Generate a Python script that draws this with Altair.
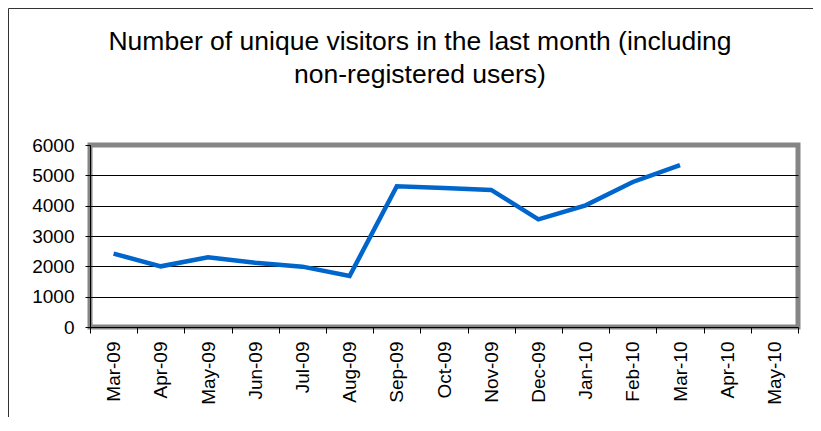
import altair as alt
import pandas as pd

# ---- data ----
MONTHS = ["Mar-09", "Apr-09", "May-09", "Jun-09", "Jul-09", "Aug-09", "Sep-09",
          "Oct-09", "Nov-09", "Dec-09", "Jan-10", "Feb-10", "Mar-10", "Apr-10", "May-10"]
VISITOR_MONTHS = MONTHS[:13]
VISITORS = [2420, 2000, 2300, 2120, 1990, 1680, 4640, 4580, 4520, 3550, 4010, 4780, 5340]
Y_TICKS = [0, 1000, 2000, 3000, 4000, 5000, 6000]
TITLE_LINES = ["Number of unique visitors in the last month (including",
               "non-registered users)"]

FONT = "Liberation Sans"
W, H = 708, 182

df = pd.DataFrame({"month": VISITOR_MONTHS, "visitors": VISITORS})

line = alt.Chart(df).mark_line(color="#0066CC", strokeWidth=4.5).encode(
    x=alt.X("month:N", sort=MONTHS, bandPosition=0.5,
            scale=alt.Scale(type="band", domain=MONTHS, paddingInner=0, paddingOuter=0),
            axis=alt.Axis(title=None, labelAngle=270, labelAlign="right", labelBaseline="middle",
                          labelFont=FONT, labelFontSize=19, labelColor="black",
                          labelPadding=8, tickBand="extent", tickColor="black", tickSize=6,
                          domainColor="black", grid=False)),
    y=alt.Y("visitors:Q", scale=alt.Scale(domain=[0, 6000], nice=False),
            axis=alt.Axis(title=None, values=Y_TICKS, format="d", labelFont=FONT,
                          labelFontSize=19, labelColor="black", labelPadding=11,
                          tickColor="black", tickSize=5, domainColor="black",
                          grid=True, gridColor="black", gridWidth=1,
                          gridOpacity={"condition": {"test": "datum.value == 0 || datum.value == 6000",
                                                     "value": 0}, "value": 1})),
)

one = alt.Data(values=[{}])

title = alt.Chart(one).mark_text(
    text=TITLE_LINES, font=FONT, fontSize=26.5, align="center", baseline="alphabetic",
    lineHeight=33, color="black"
).encode(x=alt.value(330), y=alt.value(-95))

frame_left = alt.Chart(one).mark_rule(color="#333333", strokeWidth=1).encode(
    x=alt.value(-81.5), y=alt.value(-136.5), y2=alt.value(H + 100))
frame_top = alt.Chart(one).mark_rule(color="#333333", strokeWidth=1).encode(
    x=alt.value(-81.5), x2=alt.value(W + 20), y=alt.value(-136.5))

chart = alt.layer(line, title, frame_left, frame_top).properties(
    width=W, height=H,
    autosize=alt.AutoSizeParams(type="none"),
    padding={"left": 82, "top": 137, "right": 15, "bottom": 90},
    background="white",
).configure_view(stroke="#858585", strokeWidth=5)

chart.save("out.html", embed_options={"renderer": "svg", "actions": False})
